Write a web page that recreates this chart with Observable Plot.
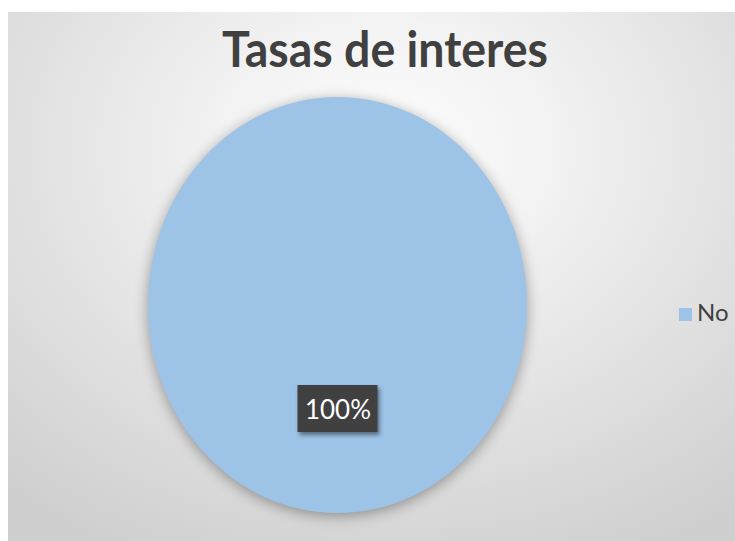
<!DOCTYPE html>
<html>
<head>
<meta charset="utf-8">
<script src="https://cdn.jsdelivr.net/npm/d3@7"></script>
<script src="https://cdn.jsdelivr.net/npm/@observablehq/plot@0.6"></script>
<style>
  html, body { margin: 0; padding: 0; background: #ffffff; }
  #wrap { position: relative; width: 735px; height: 541px; overflow: hidden; }
  #bg {
    position: absolute; left: 8px; top: 12px; width: 727px; height: 529px;
    background: radial-gradient(ellipse 78% 85% at 52% 26%, #fdfdfd 0%, #f3f3f3 28%, #e2e2e2 62%, #cfcfcf 100%);
  }
  #chart { position: absolute; left: 0; top: 0; }
  #legend {
    position: absolute; left: 679px; top: 300px;
    font-family: Lato, "Noto Sans", sans-serif; font-size: 24px; color: #404040;
  }
  .item { display: flex; align-items: flex-end; line-height: 1; }
  .sw { width: 13px; height: 13px; margin-right: 5px; margin-bottom: 3px; }
</style>
</head>
<body>
<div id="wrap">
  <div id="bg"></div>
  <div id="chart"></div>
  <div id="legend"></div>
</div>
<script>
// ---- data ----
const title = "Tasas de interes";
const categories = ["No"];
const values = [100];
const colors = ["#9DC3E6"];

// ---- build ----
const data = categories.map((c, i) => ({category: c, value: values[i], color: colors[i]}));
const total = d3.sum(values);
const arcs = d3.pie().sort(null).value(d => d.value)(data);
const unitArc = d3.arc().innerRadius(0).outerRadius(1);
const labels = arcs.map(a => {
  const [cx, cy] = unitArc.centroid(a);
  return {x: cx, y: -cy, text: d3.format(".0%")(a.data.value / total)};
});

function pieMark(index, scales) {
  const X = scales.x, Y = scales.y;
  const cx = X(0), cy = Y(0), rx = X(1) - cx, ry = Y(-1) - cy;
  const outer = d3.create("svg:g").style("filter", "drop-shadow(0px 3px 7px rgba(0,0,0,0.35))");
  const inner = outer.append("g").attr("transform", `translate(${cx},${cy}) scale(${rx},${ry})`);
  inner.selectAll("path").data(arcs).join("path")
    .attr("d", unitArc)
    .attr("fill", d => d.data.color);
  return outer.node();
}

function labelBoxMark(index, scales) {
  const X = scales.x, Y = scales.y;
  const g = d3.create("svg:g").style("filter", "drop-shadow(2px 3px 2px rgba(0,0,0,0.45))");
  g.selectAll("rect").data(labels).join("rect")
    .attr("x", d => X(d.x) - 40).attr("y", d => Y(d.y) - 24)
    .attr("width", 80).attr("height", 47)
    .attr("fill", "#404040");
  return g.node();
}

const plot = Plot.plot({
  width: 735,
  height: 541,
  marginLeft: 148,
  marginRight: 208,
  marginTop: 97,
  marginBottom: 28,
  x: {domain: [-1, 1], axis: null},
  y: {domain: [-1, 1], axis: null},
  style: {background: "transparent", overflow: "visible"},
  marks: [
    pieMark,
    labelBoxMark,
    Plot.text(labels, {
      x: "x", y: "y", text: "text",
      fill: "#ffffff", fontSize: 26, fontFamily: "Lato, 'Noto Sans', sans-serif",
      dy: 1
    })
  ]
});
document.getElementById("chart").appendChild(plot);

// title
d3.select(plot).append("text")
  .attr("x", 385).attr("y", 67)
  .attr("text-anchor", "middle")
  .attr("textLength", 326)
  .attr("lengthAdjust", "spacingAndGlyphs")
  .attr("fill", "#404040")
  .style("font-family", "Lato, 'Noto Sans', sans-serif")
  .style("font-weight", "bold")
  .style("font-size", "49px")
  .text(title);

// legend
const legend = d3.select("#legend");
const items = legend.selectAll(".item").data(data).join("div").attr("class", "item");
items.append("div").attr("class", "sw").style("background", d => d.color);
items.append("span").text(d => d.category);
</script>
</body>
</html>
